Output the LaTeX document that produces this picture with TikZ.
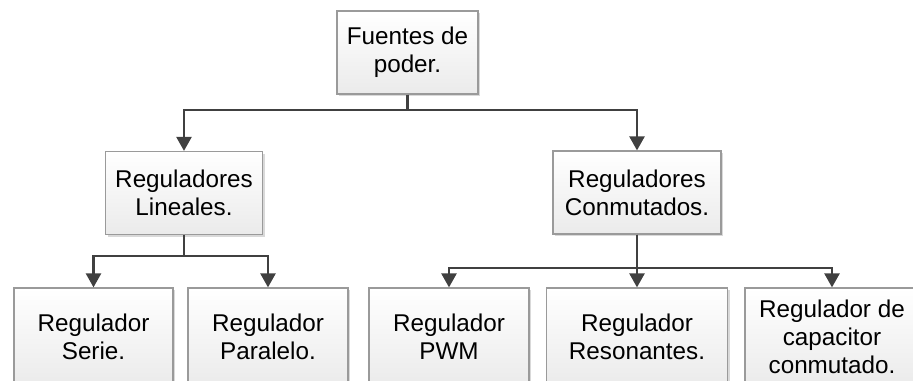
\documentclass[tikz,border=0pt]{standalone}
\usepackage{fontspec}
\setmainfont{Liberation Sans}
\usetikzlibrary{arrows.meta,shadows}
\definecolor{linegray}{HTML}{404040}
\definecolor{edgegray}{HTML}{9A9A9A}
\begin{document}
\begin{tikzpicture}[
  caja/.style={draw=edgegray, line width=0.7pt, rectangle, align=center,
    top color=white, bottom color=black!8,
    drop shadow={shadow xshift=1.2pt, shadow yshift=-1.2pt, fill=black!25, opacity=0.6},
    font=\fontsize{13.8}{15.8}\selectfont, inner sep=0pt},
  conector/.style={-{Triangle[length=0.28cm,width=0.3cm]}, color=linegray, line width=1.4pt}
]
\useasboundingbox (0,0) rectangle (18.26,-7.62);
\node[caja, minimum width=2.82cm, minimum height=1.66cm] (fuentes) at (8.15,-1.05) {Fuentes de\\poder.};
\node[caja, minimum width=3.14cm, minimum height=1.66cm] (lineales) at (3.68,-3.86) {Reguladores\\Lineales.};
\node[caja, minimum width=3.36cm, minimum height=1.66cm] (conmutados) at (12.74,-3.85) {Reguladores\\Conmutados.};
\node[caja, minimum width=3.18cm, minimum height=1.96cm] (serie) at (1.87,-6.74) {Regulador\\Serie.};
\node[caja, minimum width=3.20cm, minimum height=1.96cm] (paralelo) at (5.36,-6.74) {Regulador\\Paralelo.};
\node[caja, minimum width=3.20cm, minimum height=1.96cm] (pwm) at (8.98,-6.74) {Regulador\\PWM};
\node[caja, minimum width=3.62cm, minimum height=1.96cm] (resonantes) at (12.74,-6.74) {Regulador\\Resonantes.};
\node[caja, minimum width=3.48cm, minimum height=1.96cm] (capacitor) at (16.64,-6.74) {Regulador de\\capacitor\\conmutado.};
% buses
\coordinate (bus0) at (0,-2.2);
\coordinate (bus1) at (0,-5.12);
\coordinate (bus2) at (0,-5.36);
\draw[conector] (fuentes.south) -- (fuentes.south |- bus0) -| (lineales.north);
\draw[conector] (fuentes.south) -- (fuentes.south |- bus0) -| (conmutados.north);
\draw[conector] (lineales.south) -- (lineales.south |- bus1) -| (serie.north);
\draw[conector] (lineales.south) -- (lineales.south |- bus1) -| (paralelo.north);
\draw[conector] (conmutados.south) -- (conmutados.south |- bus2) -| (pwm.north);
\draw[conector] (conmutados.south) -- (resonantes.north);
\draw[conector] (conmutados.south) -- (conmutados.south |- bus2) -| (capacitor.north);
\end{tikzpicture}
\end{document}
